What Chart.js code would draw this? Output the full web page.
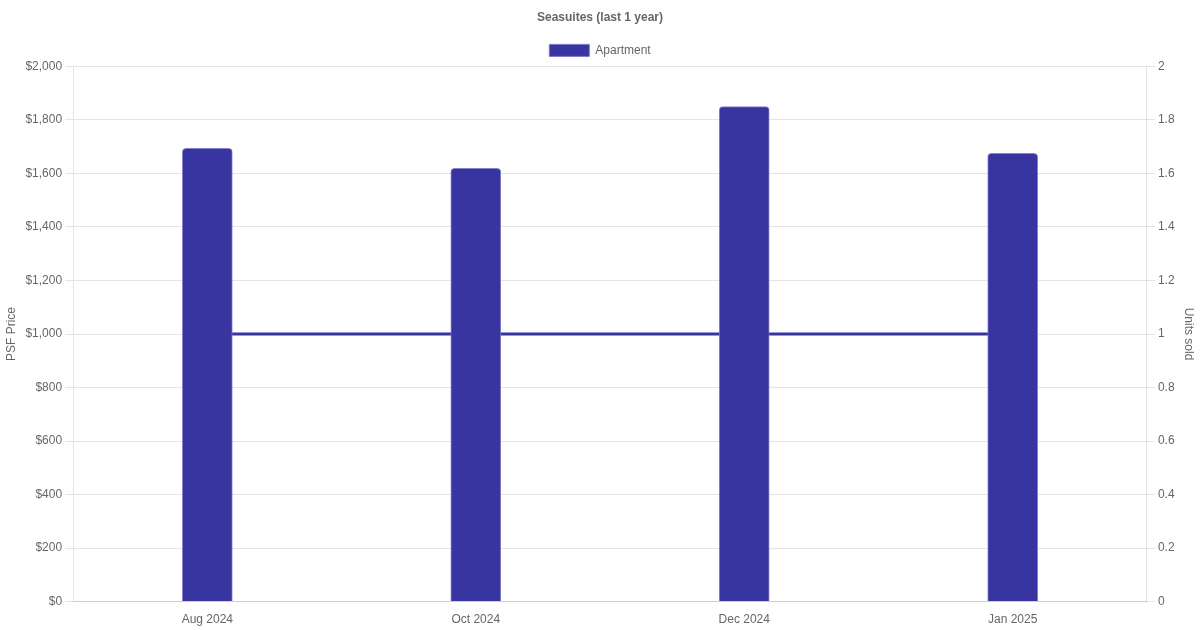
<!DOCTYPE html>
<html>
<head>
<meta charset="utf-8">
<script src="https://cdn.jsdelivr.net/npm/chart.js@4/dist/chart.umd.min.js"></script>
<style>
  html, body { margin: 0; padding: 0; background: #fff; }
  #wrap { width: 1200px; height: 630px; }
</style>
</head>
<body>
<div id="wrap"><canvas id="grafico"></canvas></div>
<script>
// dati
const mesi = ["Aug 2024", "Oct 2024", "Dec 2024", "Jan 2025"];
const prezzoPsf = [1694, 1619, 1850, 1675];
const unitaVendute = [1, 1, 1, 1];

const viola = "rgb(57, 53, 160)";
const violaChiaro = "rgba(120, 115, 200, 0.9)";

Chart.defaults.font.family = "'Liberation Sans', Arial, sans-serif";
Chart.defaults.font.size = 12;
Chart.defaults.color = "#666";

new Chart(document.getElementById("grafico").getContext("2d"), {
    data: {
        labels: mesi,
        datasets: [{
            type: "bar",
            label: "Apartment",
            data: prezzoPsf,
            yAxisID: "y",
            backgroundColor: viola,
            borderColor: violaChiaro,
            borderWidth: 1,
            borderRadius: 4,
            barThickness: 50,
            order: 1
        }, {
            type: "line",
            label: "Units sold",
            data: unitaVendute,
            yAxisID: "y1",
            borderColor: viola,
            backgroundColor: viola,
            borderWidth: 3,
            pointRadius: 0,
            fill: false,
            order: 2
        }]
    },
    options: {
        responsive: true,
        maintainAspectRatio: false,
        animation: false,
        plugins: {
            title: {
                display: true,
                text: "Seasuites (last 1 year)",
                font: { weight: "bold", size: 12 },
                padding: { top: 10, bottom: 10 }
            },
            legend: {
                labels: {
                    boxWidth: 40,
                    filter: item => item.text === "Apartment"
                }
            },
            tooltip: { enabled: false }
        },
        scales: {
            x: {
                grid: { display: false },
                ticks: { padding: 3 }
            },
            y: {
                position: "left",
                min: 0,
                max: 2000,
                ticks: {
                    stepSize: 200,
                    callback: v => "$" + v.toLocaleString("en-US")
                },
                title: { display: true, text: "PSF Price" }
            },
            y1: {
                position: "right",
                min: 0,
                max: 2,
                grid: { drawOnChartArea: false },
                ticks: {
                    stepSize: 0.2,
                    callback: v => String(Math.round(v * 10) / 10)
                },
                title: { display: true, text: "Units sold" }
            }
        }
    }
});
</script>
</body>
</html>
